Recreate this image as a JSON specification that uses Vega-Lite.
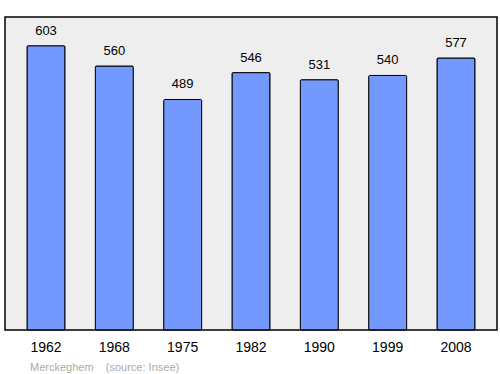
{
  "$schema": "https://vega.github.io/schema/vega-lite/v6.json",
  "width": 492,
  "height": 313,
  "autosize": {"type": "none"},
  "padding": {"left": 5, "top": 17, "right": 3, "bottom": 44},
  "background": "white",
  "config": {
    "font": "Liberation Sans",
    "view": {"fill": "#eeeeee", "stroke": "#000000", "strokeWidth": 1.5}
  },
  "title": {
    "text": "Merckeghem\u00a0\u00a0\u00a0\u00a0(source: Insee)",
    "orient": "bottom",
    "anchor": "start",
    "dx": 25,
    "offset": 8,
    "fontSize": 11,
    "fontWeight": "normal",
    "color": "#aaaaaa",
    "font": "Liberation Sans"
  },
  "data": {
    "values": [
      {"year": "1962", "pop": 603},
      {"year": "1968", "pop": 560},
      {"year": "1975", "pop": 489},
      {"year": "1982", "pop": 546},
      {"year": "1990", "pop": 531},
      {"year": "1999", "pop": 540},
      {"year": "2008", "pop": 577}
    ]
  },
  "encoding": {
    "x": {
      "field": "year",
      "type": "ordinal",
      "scale": {"paddingInner": 0.444, "paddingOuter": 0.322},
      "axis": {
        "title": null,
        "domain": false,
        "ticks": false,
        "labelAngle": 0,
        "labelFontSize": 14,
        "labelColor": "#000000",
        "labelPadding": 10
      }
    },
    "y": {
      "field": "pop",
      "type": "quantitative",
      "scale": {"domain": [0, 664], "nice": false},
      "axis": null
    }
  },
  "layer": [
    {
      "mark": {"type": "bar", "color": "#7399ff", "stroke": "#000000", "strokeWidth": 1, "cornerRadius": 1}
    },
    {
      "mark": {"type": "text", "dy": -15, "fontSize": 13, "color": "#000000", "baseline": "middle"},
      "encoding": {"text": {"field": "pop", "type": "quantitative"}}
    }
  ]
}
